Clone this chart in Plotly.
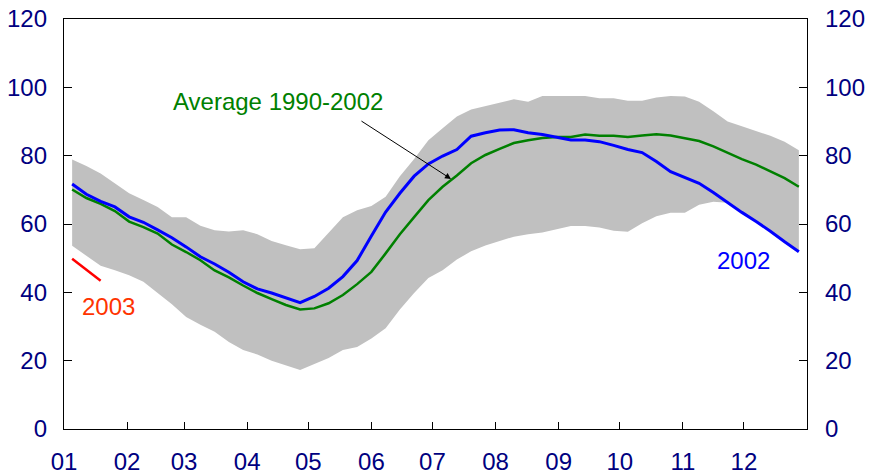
import plotly.graph_objects as go

# Weekly observations (week index -> day of year)
weeks = list(range(52))
days = [4 + 7 * w for w in weeks]

band_upper = [78.9, 77.0, 74.8, 72.0, 69.0, 67.0, 65.0, 62.0, 62.0, 59.5,
              58.2, 57.8, 58.2, 57.0, 55.0, 53.8, 52.6, 52.9, 57.5, 62.0,
              64.0, 65.3, 68.0, 74.0, 79.0, 84.5, 88.0, 91.5, 93.5, 94.5,
              95.5, 96.5, 95.8, 97.5, 97.5, 97.5, 97.5, 96.8, 96.8, 96.1,
              96.1, 97.0, 97.5, 97.3, 95.8, 93.0, 90.0, 88.6, 87.3, 85.8,
              84.1, 81.6]
band_lower = [53.6, 50.7, 47.8, 46.5, 45.0, 43.1, 39.8, 36.5, 32.8, 30.5,
              28.5, 25.5, 23.1, 21.8, 20.0, 18.6, 17.3, 19.0, 20.8, 23.1,
              24.0, 26.5, 29.5, 35.0, 39.8, 44.2, 46.5, 49.6, 52.0, 53.7,
              55.0, 56.3, 57.0, 57.5, 58.5, 59.4, 59.4, 59.0, 58.0, 57.7,
              60.2, 62.3, 63.3, 63.3, 65.6, 66.5, 66.2, 63.4, 60.7, 57.9,
              54.8, 51.9]
avg_1990_2002 = [70.1, 67.6, 65.9, 63.8, 60.7, 59.1, 57.2, 54.0, 51.8, 49.4,
                 46.4, 44.4, 42.0, 39.8, 38.0, 36.3, 35.0, 35.3, 36.8, 39.2,
                 42.4, 46.0, 51.4, 57.0, 62.0, 67.0, 70.9, 74.2, 77.8, 80.2,
                 82.0, 83.7, 84.5, 85.2, 85.5, 85.5, 86.2, 85.8, 85.8, 85.5,
                 85.9, 86.3, 85.9, 85.0, 84.3, 82.7, 80.8, 79.0, 77.4, 75.5,
                 73.4, 70.9]
y2002 = [71.7, 68.7, 66.6, 65.0, 62.1, 60.5, 58.3, 56.0, 53.3, 50.4,
         48.3, 45.9, 43.1, 41.0, 39.8, 38.4, 37.0, 38.8, 41.2, 44.6,
         49.3, 56.5, 63.5, 69.0, 74.0, 77.6, 79.9, 81.8, 85.7, 86.7,
         87.5, 87.6, 86.7, 86.2, 85.4, 84.6, 84.6, 84.1, 83.0, 81.8,
         80.9, 78.3, 75.3, 73.6, 71.9, 69.2, 66.2, 63.4, 60.7, 57.9,
         54.8, 51.9]
y2003 = [49.8, 46.5, 43.4]

month_start_days = [0, 31, 59, 90, 120, 151, 181, 212, 243, 273, 304, 334]
month_labels = ["01", "02", "03", "04", "05", "06", "07", "08", "09", "10", "11", "12"]
y_ticks = [0, 20, 40, 60, 80, 100, 120]

FONT = "Liberation Sans, Arial, sans-serif"
NAVY = "#000080"
FS = 24

fig = go.Figure()
fig.add_trace(go.Scatter(x=days, y=band_lower, mode="lines", line=dict(width=0),
                         showlegend=False, hoverinfo="skip"))
fig.add_trace(go.Scatter(x=days, y=band_upper, mode="lines", line=dict(width=0),
                         fill="tonexty", fillcolor="#c0c0c0", showlegend=False,
                         hoverinfo="skip"))
fig.add_trace(go.Scatter(x=days, y=avg_1990_2002, mode="lines",
                         line=dict(color="#008000", width=2.5), showlegend=False))
fig.add_trace(go.Scatter(x=days, y=y2002, mode="lines",
                         line=dict(color="#0000ff", width=3), showlegend=False))
fig.add_trace(go.Scatter(x=days[:len(y2003)], y=y2003, mode="lines",
                         line=dict(color="#ff0000", width=2.5), showlegend=False,
                         yaxis="y2"))

axis_common = dict(range=[0, 120], tickvals=y_ticks, ticks="inside", ticklen=8,
                   tickcolor="black", showgrid=False, zeroline=False,
                   showline=True, linecolor="black", linewidth=1.3,
                   automargin=False,
                   tickfont=dict(family=FONT, size=FS, color=NAVY))

fig.update_layout(
    width=870, height=475,
    margin=dict(l=64, r=63, t=19, b=46),
    paper_bgcolor="white", plot_bgcolor="white",
    xaxis=dict(range=[0, 365], tickvals=month_start_days, ticktext=month_labels,
               ticks="inside", ticklen=7, tickcolor="black", showgrid=False,
               zeroline=False, showline=True, linecolor="black", linewidth=1.3,
               mirror=True, ticklabelstandoff=11, automargin=False,
               tickfont=dict(family=FONT, size=FS, color=NAVY)),
    yaxis=dict(side="left", ticklabelstandoff=11, **axis_common),
    yaxis2=dict(side="right", overlaying="y", ticklabelstandoff=12, **axis_common),
    showlegend=False,
)

fig.add_annotation(x=105, y=96.0, xref="x", yref="y", text="Average 1990-2002",
                   showarrow=False, font=dict(family=FONT, size=FS, color="#008000"),
                   xanchor="center", yanchor="middle")
fig.add_annotation(x=190.1, y=73.2, xref="x", yref="y", ax=145.4, ay=90.4,
                   axref="x", ayref="y", text="", showarrow=True, arrowhead=2,
                   arrowsize=1.2, arrowwidth=1, arrowcolor="black")
fig.add_annotation(x=22, y=35.8, xref="x", yref="y", text="2003", showarrow=False,
                   font=dict(family=FONT, size=FS, color="#ff3300"),
                   xanchor="center", yanchor="middle")
fig.add_annotation(x=334, y=49.3, xref="x", yref="y", text="2002", showarrow=False,
                   font=dict(family=FONT, size=FS, color="#0000ff"),
                   xanchor="center", yanchor="middle")

fig.write_html("out.html", config={"displayModeBar": False},
               post_script="document.body.style.margin='0';document.body.style.overflow='hidden';")
